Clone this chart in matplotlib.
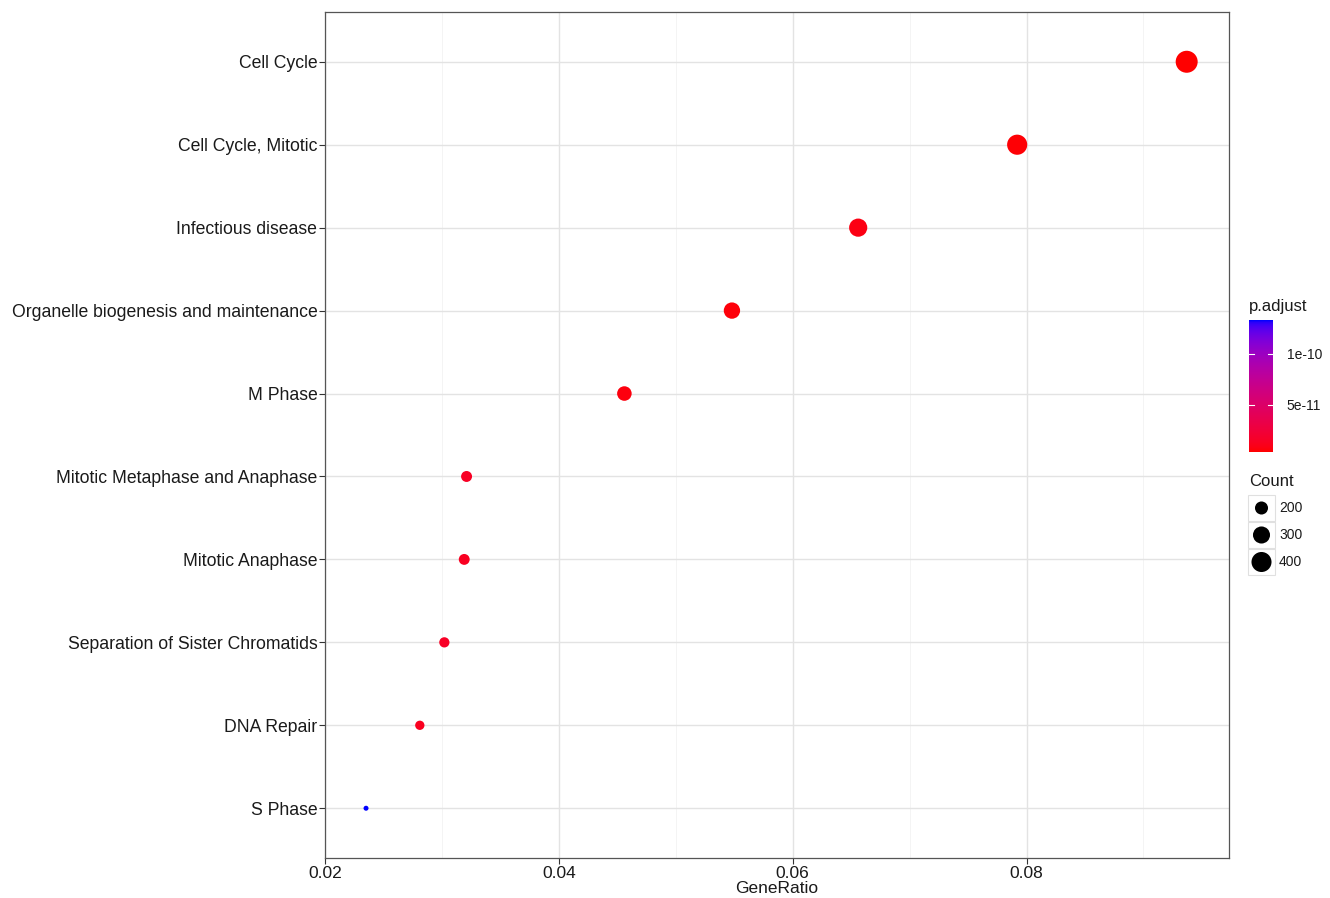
import numpy as np
import matplotlib
matplotlib.use("Agg")
import matplotlib.pyplot as plt
from matplotlib.colors import LinearSegmentedColormap, Normalize
from matplotlib.patches import Rectangle

plt.rcParams['font.family'] = ['Liberation Sans', 'DejaVu Sans']

# Enrichment results (top to bottom)
pathways = [
    "Cell Cycle",
    "Cell Cycle, Mitotic",
    "Infectious disease",
    "Organelle biogenesis and maintenance",
    "M Phase",
    "Mitotic Metaphase and Anaphase",
    "Mitotic Anaphase",
    "Separation of Sister Chromatids",
    "DNA Repair",
    "S Phase",
]
gene_ratio = [0.0937, 0.0792, 0.0656, 0.0548, 0.0456, 0.0321, 0.0319, 0.0302, 0.0281, 0.0235]
gene_count = [478, 404, 335, 279, 233, 164, 163, 154, 143, 120]
p_adjust = [3.9e-12, 5.0e-12, 8.0e-12, 6.0e-12, 7.0e-12, 1.4e-11, 1.3e-11, 1.5e-11, 1.2e-11, 1.33e-10]

count_breaks = [200, 300, 400]
p_breaks = [5e-11, 1e-10]
p_break_labels = ["5e-11", "1e-10"]

W, H = 1330, 898
fig = plt.figure(figsize=(W / 100, H / 100), dpi=100)


def lab_to_rgb(L, a, b):
    fy = (L + 16) / 116
    fx = fy + a / 500
    fz = fy - b / 200
    def finv(t):
        return np.where(t ** 3 > 0.008856, t ** 3, (t - 16 / 116) / 7.787)
    X = 0.95047 * finv(fx)
    Y = 1.0 * finv(fy)
    Z = 1.08883 * finv(fz)
    r = 3.2406 * X - 1.5372 * Y - 0.4986 * Z
    g = -0.9689 * X + 1.8758 * Y + 0.0415 * Z
    bb = 0.0557 * X - 0.2040 * Y + 1.0570 * Z
    rgb = np.stack([r, g, bb], axis=-1)
    rgb = np.where(rgb > 0.0031308, 1.055 * np.clip(rgb, 0, None) ** (1 / 2.4) - 0.055, 12.92 * rgb)
    return np.clip(rgb, 0, 1)


# red -> blue gradient interpolated in Lab space
t = np.linspace(0, 1, 64)
red_lab = np.array([53.24, 80.09, 67.20])
blue_lab = np.array([32.30, 79.19, -107.86])
labs = red_lab[None, :] * (1 - t[:, None]) + blue_lab[None, :] * t[:, None]
cols = lab_to_rgb(labs[:, 0], labs[:, 1], labs[:, 2])
cmap = LinearSegmentedColormap.from_list("red_blue", cols)
norm = Normalize(vmin=min(p_adjust), vmax=max(p_adjust))

cmin, cmax = min(gene_count), max(gene_count)


def dot_area(c):
    c = np.asarray(c, dtype=float)
    d_px = 5 + 17 * np.sqrt((c - cmin) / (cmax - cmin))
    return (d_px * 0.72) ** 2


# ---- main panel ----
ax = fig.add_axes([325 / W, 1 - 858 / H, (1229 - 325) / W, (858 - 12) / H])
ypos = np.arange(len(pathways))
ax.scatter(gene_ratio, ypos, s=dot_area(gene_count), c=p_adjust, cmap=cmap, norm=norm,
           edgecolors='none', zorder=3)
ax.set_xlim(0.01999, 0.09732)
ax.set_ylim(len(pathways) - 1 + 0.6, -0.6)
ax.set_yticks(ypos)
ax.set_yticklabels(pathways, fontsize=12.7, color='#1a1a1a')
ax.set_xticks([0.02, 0.04, 0.06, 0.08])
ax.set_xticklabels(["0.02", "0.04", "0.06", "0.08"], fontsize=12.5, color='#1a1a1a')
ax.set_xticks([0.03, 0.05, 0.07, 0.09], minor=True)
ax.grid(True, which='major', color='#e3e3e3', linewidth=1.0, zorder=0)
ax.grid(True, which='minor', axis='x', color='#f4f4f4', linewidth=0.7, zorder=0)
ax.tick_params(axis='both', which='major', length=4, width=0.8, color='#333333', pad=1.5)
ax.tick_params(axis='x', which='minor', length=0)
for sp in ax.spines.values():
    sp.set_color('#555555')
    sp.set_linewidth(0.9)
ax.set_axisbelow(True)
ax.set_xlabel("GeneRatio", fontsize=12.5, color='#1a1a1a', labelpad=0)

# ---- colour legend ----
cb_top, cb_bot = 320, 452
cax = fig.add_axes([1249 / W, 1 - cb_bot / H, 24 / W, (cb_bot - cb_top) / H])
grad = np.linspace(norm.vmin, norm.vmax, 256)[:, None]
cax.imshow(grad, aspect='auto', cmap=cmap, norm=norm, origin='lower',
           extent=[0, 1, norm.vmin, norm.vmax])
cax.set_xlim(0, 1)
cax.set_ylim(norm.vmin, norm.vmax)
cax.set_xticks([])
cax.yaxis.tick_right()
cax.set_yticks(p_breaks)
cax.set_yticklabels(p_break_labels, fontsize=10, color='#1a1a1a')
cax.tick_params(axis='y', length=0, pad=10)
for pb in p_breaks:
    cax.plot([0, 0.2], [pb, pb], color='white', lw=0.8)
    cax.plot([0.8, 1], [pb, pb], color='white', lw=0.8)
for sp in cax.spines.values():
    sp.set_visible(False)
fig.text(1249 / W, 1 - 306 / H, "p.adjust", fontsize=12, color='#1a1a1a', va='center', ha='left')

# ---- size legend ----
lax = fig.add_axes([0, 0, 1, 1], facecolor='none')
lax.set_xlim(0, W)
lax.set_ylim(H, 0)
lax.axis('off')
lax.text(1249, 481, "Count", fontsize=12, color='#1a1a1a', va='center', ha='left')
key_y = [508, 535, 562]
for yk, cb in zip(key_y, count_breaks):
    lax.add_patch(Rectangle((1248, yk - 13), 27, 26, facecolor='white',
                            edgecolor='#e0e0e0', linewidth=0.8))
    lax.scatter([1261.5], [yk], s=dot_area([cb]), color='black', edgecolors='none', zorder=3)
    lax.text(1279, yk, str(cb), fontsize=10, color='#1a1a1a', va='center', ha='left')

fig.savefig("out.png", dpi=100)
